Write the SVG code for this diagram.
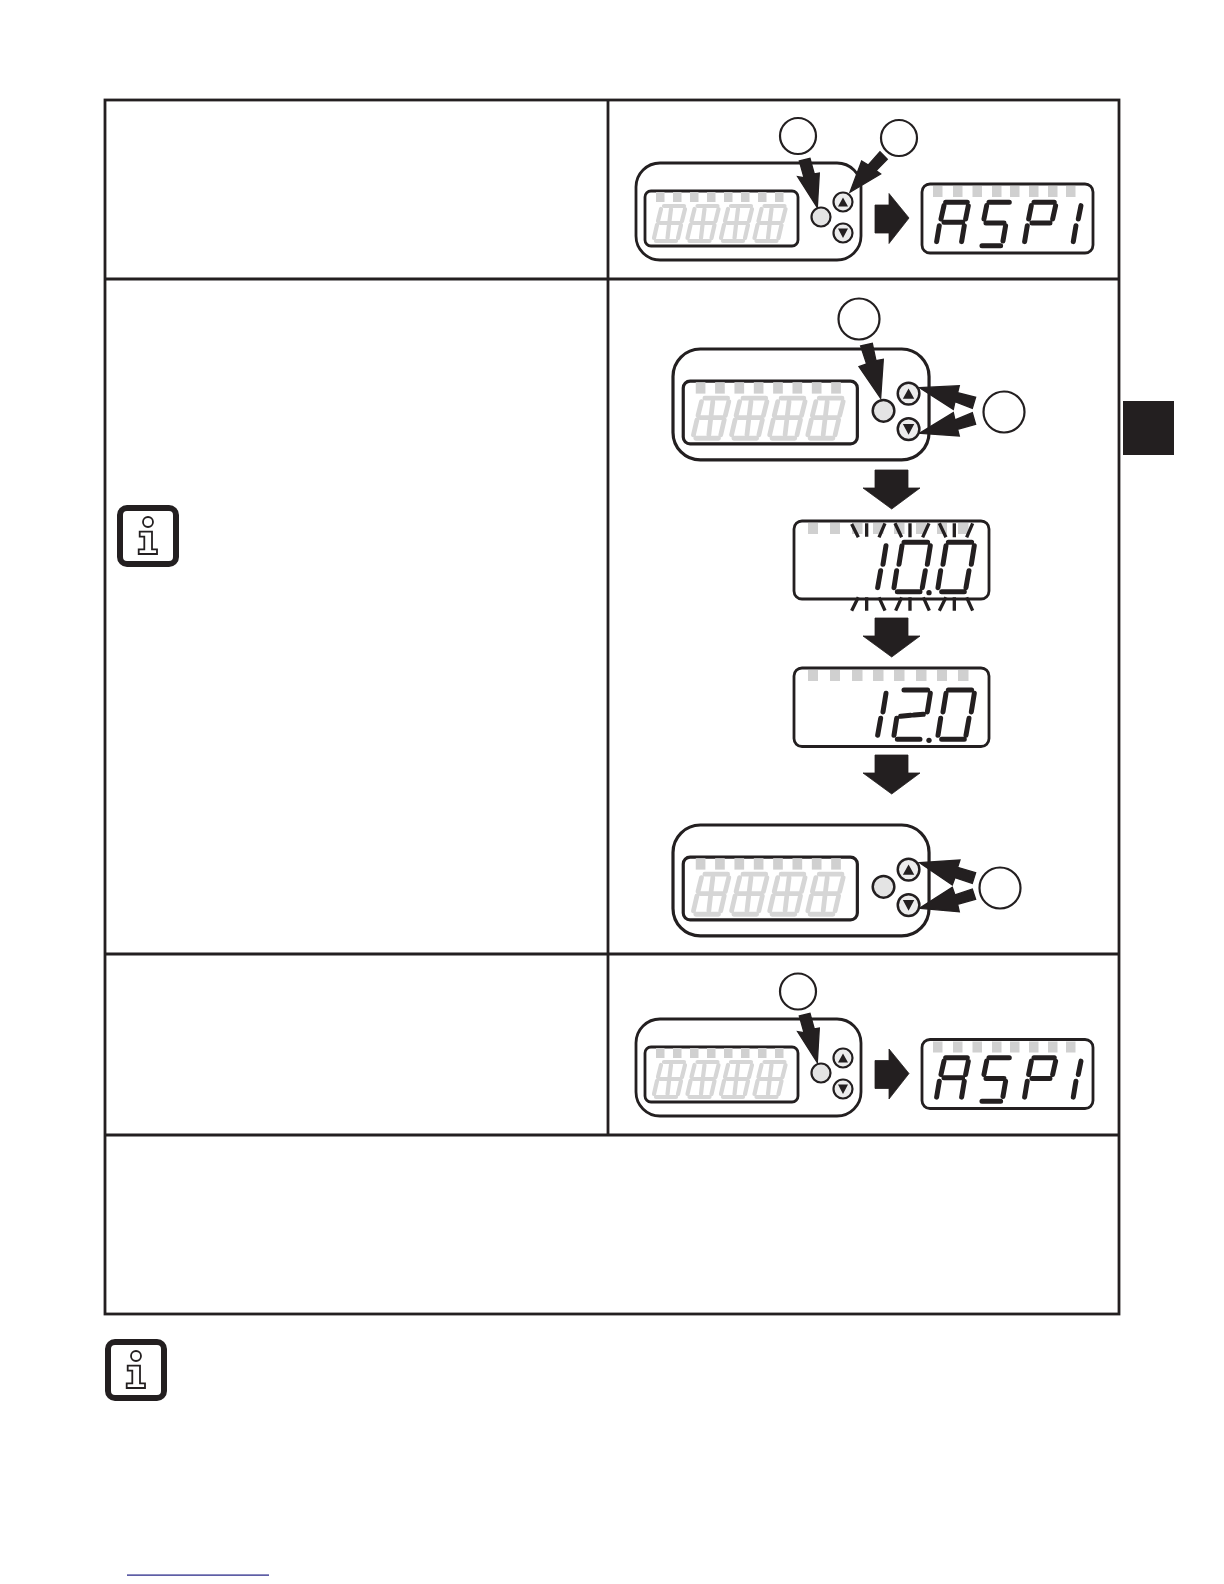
<svg xmlns="http://www.w3.org/2000/svg" width="1224" height="1584" viewBox="0 0 1224 1584">
<style>
.t{fill:none;stroke:#231f20;stroke-width:2.8}
.o{fill:#fff;stroke:#231f20;stroke-width:2.8}
.c{fill:#fff;stroke:#231f20;stroke-width:2.2}
.k{fill:#231f20}
.a{fill:#231f20;stroke:#231f20;stroke-width:4}
.a2{fill:#231f20;stroke:#231f20;stroke-width:.8}
.tick{fill:#d0d0d0}
.g{fill:none;stroke:#d6d6d6;stroke-width:4.200;stroke-linecap:round}
.s{fill:none;stroke:#231f20;stroke-width:15;stroke-linecap:round}
.f{fill:none;stroke:#231f20;stroke-width:10}
.btn{fill:#ececec;stroke:#231f20;stroke-width:2.200}
.led{fill:#e4e4e4;stroke:#231f20;stroke-width:2.200}
</style>
<defs>
<path id="gd" class="g" d="M10 2H30M7 5L4 17M3 21L0 34M31 5L28 17M27 21L24 34M2 37H22M6 19H26M17 5L15.500 17M15 21L13.500 34"/>
<g id="ticks8s">
<rect class="tick" x="20" y="29" width="8.500" height="10"/><rect class="tick" x="37" y="29" width="8.500" height="10"/><rect class="tick" x="54" y="29" width="8.500" height="10"/><rect class="tick" x="71" y="29" width="8.500" height="10"/><rect class="tick" x="88" y="29" width="8.500" height="10"/><rect class="tick" x="105" y="29" width="8.500" height="10"/><rect class="tick" x="122" y="29" width="8.500" height="10"/><rect class="tick" x="139" y="29" width="8.500" height="10"/>
</g>
<g id="device">
<rect class="o" x="0" y="0" width="225" height="97" rx="24"/>
<rect class="t" x="9" y="28" width="153" height="55" rx="6"/>
<use href="#ticks8s"/>
<use href="#gd" x="18" y="41"/><use href="#gd" x="51.500" y="41"/><use href="#gd" x="85" y="41"/><use href="#gd" x="118.500" y="41"/>
<circle class="led" cx="185" cy="54" r="9.500"/>
<circle class="btn" cx="207" cy="39" r="9.500"/>
<circle class="btn" cx="207" cy="70" r="9.500"/>
<path class="k" d="M202 43.500H212L207 34.500ZM202 65.500H212L207 75Z"/>
</g>
<g id="aspi">
<rect class="o" x="922" y="184" width="171" height="69" rx="8"/>
<g class="tick"><rect x="933" y="186" width="9.500" height="11"/><rect x="953" y="186" width="9.500" height="11"/><rect x="972.500" y="186" width="9.500" height="11"/><rect x="992" y="186" width="9.500" height="11"/><rect x="1010" y="186" width="9.500" height="11"/><rect x="1029" y="186" width="9.500" height="11"/><rect x="1048" y="186" width="9.500" height="11"/><rect x="1066" y="186" width="9.500" height="11"/></g>
<path class="s" transform="translate(620 105) scale(.3333)" d="M977 292H1042M972 302L963 342M958 362L950 410M1045 302L1037 342M1033 362L1025 410M972 352H1028M1107 292H1168M1100 302L1092 342M1098 354H1152M1157 362L1149 408M1086 422H1142M1242 292H1303M1234 302L1226 342M1222 362L1214 410M1307 302L1298 342M1236 354H1290M1383 302L1375 342M1368 362L1360 410"/>
</g>
<path id="arrowR" class="a2" d="M875 205H889V193.500L909 218L889 243.500V233H875Z"/>
<path id="arrowD" class="a2" d="M875 0H908V18H920L891.700 39L863 18H875Z"/>
<g id="info">
<rect x="3" y="3" width="56" height="56" rx="7" fill="#fff" stroke="#231f20" stroke-width="6"/>
<circle cx="31" cy="17" r="5" fill="#fff" stroke="#231f20" stroke-width="1.800"/>
<path fill="#fff" stroke="#231f20" stroke-width="1.800" d="M22.700 26.700H35V44.300H40V49H21.700V44.300H27.300V31.700H22.700Z"/>
</g>
</defs>
<rect width="1224" height="1584" fill="#fff"/>

<g id="table">
<rect class="t" x="105" y="100" width="1014" height="1214"/>
<path class="t" d="M105 279H1119M105 954H1119M105 1135H1119M608 100V1135"/>
</g>
<rect id="tab" class="k" x="1123" y="401" width="51" height="54"/>
<use id="info-1" href="#info" x="117" y="505"/>
<use id="info-2" href="#info" x="105" y="1339"/>
<rect id="rule" x="127" y="1574.500" width="142" height="1.200" fill="#1a1a80"/>

<g id="row1">
<use id="device-1" href="#device" x="636" y="163"/>
<use id="display-aspi-1" href="#aspi"/>
<use href="#arrowR"/>
<circle class="c" cx="798" cy="136" r="18"/>
<circle class="c" cx="899" cy="138" r="18"/>
</g>

<g id="row2">
<use id="device-2" href="#device" transform="translate(673 349) scale(1.138 1.144)"/>
<circle class="c" cx="859" cy="319" r="20.500"/>
<circle class="c" cx="1004" cy="412" r="20.500"/>
<use href="#arrowD" y="470"/>
<g id="display-100">
<rect class="o" x="794" y="521" width="195" height="78" rx="8"/>
<g class="tick"><rect x="808" y="523" width="10" height="11"/><rect x="830" y="523" width="10" height="11"/><rect x="852" y="523" width="10.500" height="11"/><rect x="873" y="523" width="10.500" height="11"/><rect x="894" y="523" width="10.500" height="11"/><rect x="916" y="523" width="10.500" height="11"/><rect x="937" y="523" width="10" height="11"/><rect x="958" y="523" width="10.500" height="11"/></g>
<g transform="translate(780 480) scale(.3333)">
<path class="s" d="M318 197L309 253M302 272L293 323M372 187H443M366 197L357 253M350 272L342 323M451 197L442 253M436 272L427 323M352 335H420M505 187H575M498 197L489 253M482 272L474 323M583 197L574 253M567 272L558 323M485 335H553"/>
<circle class="k" cx="447" cy="338" r="8"/>
<path class="f" d="M215 132L235 172M260 130V170M315 130L297 172M345 130L365 172M390 130V172M447 130L428 172M478 130L498 172M523 130V172M578 130L560 172M235 352L215 392M260 352V392M297 352L315 392M365 352L347 392M390 352V392M430 352L448 392M498 352L478 392M523 352V392M560 352L578 392"/>
</g>
</g>
<use href="#arrowD" y="618"/>
<g id="display-120">
<rect class="o" x="794" y="668" width="195" height="78.500" rx="8"/>
<g class="tick"><rect x="808" y="670" width="10" height="11"/><rect x="830" y="670" width="10" height="11"/><rect x="852" y="670" width="10.500" height="11"/><rect x="873" y="670" width="10.500" height="11"/><rect x="894" y="670" width="10.500" height="11"/><rect x="916" y="670" width="10.500" height="11"/><rect x="937" y="670" width="10" height="11"/><rect x="958" y="670" width="10.500" height="11"/></g>
<g transform="translate(780 480) scale(.3333)">
<path class="s" d="M318 640L309 696M302 715L293 766M372 630H443M451 640L442 696M362 709L392 706M402 705L430 703M350 715L342 766M352 778H420M505 630H575M498 640L489 696M482 715L474 766M583 640L574 696M567 715L558 766M485 778H553"/>
<circle class="k" cx="447" cy="781" r="8"/>
</g>
</g>
<use href="#arrowD" y="755"/>
<use id="device-3" href="#device" transform="translate(673 825) scale(1.138 1.144)"/>
<circle class="c" cx="1000" cy="888" r="20.500"/>
</g>

<g id="row3">
<use id="device-4" href="#device" x="636" y="1019"/>
<use id="display-aspi-2" href="#aspi" y="855.500"/>
<use href="#arrowR" y="855.500"/>
<circle class="c" cx="798" cy="991.500" r="18"/>
</g>

<g id="connectors">
<g transform="translate(620 105) scale(.3333)">
<path class="a" d="M538 168L570 160L583 207L598 204L592 308L533 215L552 218Z"/>
<path class="a" d="M780 140L802 163L768 197L782 207L690 262L725 168L745 180Z"/>
</g>
<g transform="translate(660 290) scale(.3333)">
<path class="a" d="M602 168L637 160L648 212L670 208L662 325L597 230L620 222Z"/>
<path class="a" d="M778 293L898 287L893 308L947 322L937 355L885 335L880 358Z"/>
<path class="a" d="M778 430L880 368L885 390L937 368L947 403L893 418L898 438Z"/>
</g>
<g transform="translate(660 810) scale(.3333)">
<path class="a" d="M778 158L900 150L893 172L947 188L937 220L885 203L877 225Z"/>
<path class="a" d="M778 295L877 232L885 255L937 237L947 268L893 283L898 305Z"/>
</g>
<g transform="translate(620 960) scale(.3333)">
<path class="a" d="M538 168L570 160L583 207L598 204L592 308L533 215L552 218Z"/>
</g>
</g>
</svg>
